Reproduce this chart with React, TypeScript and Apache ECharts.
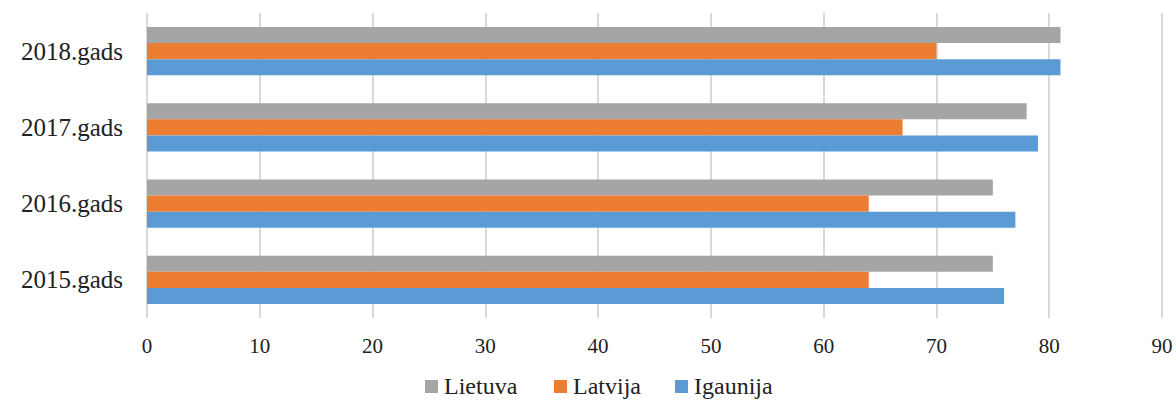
import React, { useEffect, useRef } from "react";
import * as echarts from "echarts";

const categories = ["2015.gads", "2016.gads", "2017.gads", "2018.gads"];
const lietuva = [75, 75, 78, 81];
const latvija = [64, 64, 67, 70];
const igaunija = [76, 77, 79, 81];
const seriesNames = ["Lietuva", "Latvija", "Igaunija"];
const seriesColors = ["#a5a5a5", "#ed7d31", "#5b9bd5"];

export default function App() {
  const ref = useRef<HTMLDivElement>(null);
  useEffect(() => {
    if (!ref.current) return;
    const chart = echarts.init(ref.current, undefined, { renderer: "svg" });
    const font = "Liberation Serif";
    const legendX = [425, 554, 675];
    const legendGraphics: any[] = [];
    seriesNames.forEach((name, i) => {
      legendGraphics.push({
        type: "rect",
        left: legendX[i],
        top: 380,
        shape: { width: 13, height: 13 },
        style: { fill: seriesColors[i] },
        silent: true,
      });
      legendGraphics.push({
        type: "text",
        x: legendX[i] + 19,
        y: 386,
        style: {
          text: name,
          fontFamily: font,
          fontSize: 24,
          fill: "#222",
          textVerticalAlign: "middle",
          verticalAlign: "middle",
        },
        silent: true,
      });
    });
    chart.setOption({
      animation: false,
      backgroundColor: "#ffffff",
      textStyle: { fontFamily: font },
      grid: { left: 147, right: 14, top: 13, bottom: 83, containLabel: false },
      legend: { show: false },
      graphic: legendGraphics,
      xAxis: {
        type: "value",
        min: 0,
        max: 90,
        interval: 10,
        axisLine: { show: false },
        axisTick: { show: false },
        axisLabel: { fontFamily: font, fontSize: 21, color: "#222", margin: 17 },
        splitLine: { show: true, lineStyle: { color: "#d9d9d9", width: 2 } },
      },
      yAxis: {
        type: "category",
        data: categories,
        axisLine: { show: false },
        axisTick: { show: false },
        axisLabel: { fontFamily: font, fontSize: 25, color: "#222", margin: 24 },
        splitLine: { show: false },
      },
      series: [
        { name: seriesNames[0], type: "bar", data: lietuva, itemStyle: { color: seriesColors[0] }, barGap: "0%", barCategoryGap: "37%" },
        { name: seriesNames[1], type: "bar", data: latvija, itemStyle: { color: seriesColors[1] }, barGap: "0%", barCategoryGap: "37%" },
        { name: seriesNames[2], type: "bar", data: igaunija, itemStyle: { color: seriesColors[2] }, barGap: "0%", barCategoryGap: "37%" },
      ],
    });
    return () => chart.dispose();
  }, []);
  return (
    <div
      ref={ref}
      style={{ position: "absolute", left: 0, top: 0, width: 1176, height: 401 }}
    />
  );
}
